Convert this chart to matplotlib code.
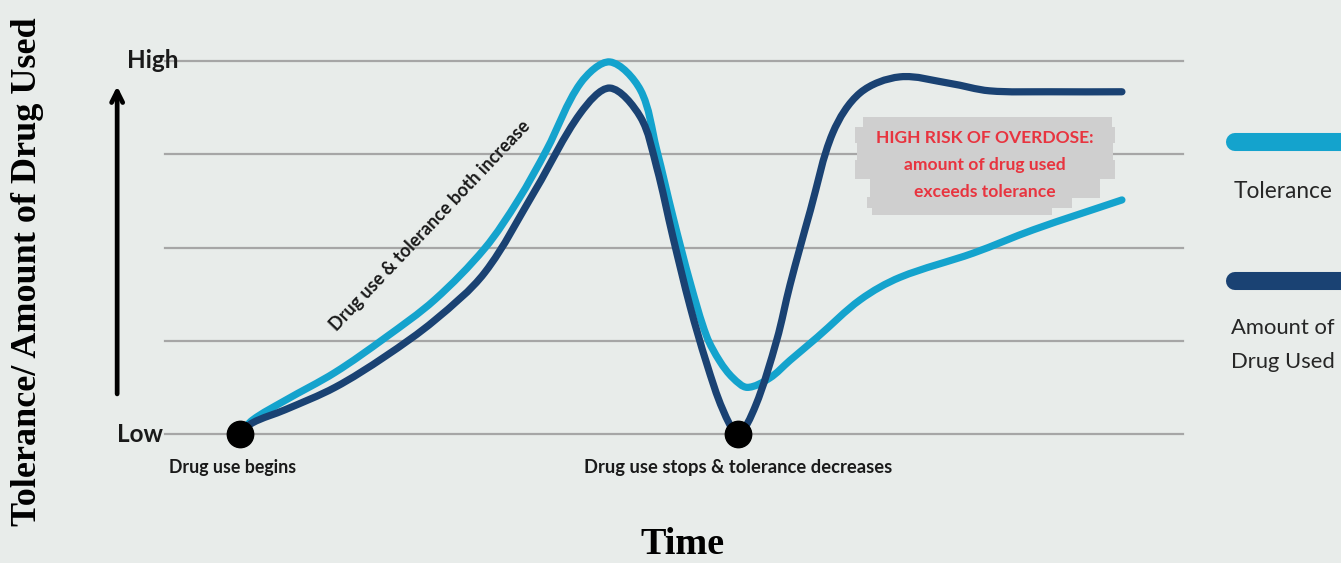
import numpy as np
import matplotlib.pyplot as plt
from matplotlib.path import Path
from matplotlib.patches import PathPatch, Rectangle
from matplotlib.lines import Line2D

# 数据：时间轴 0-100，纵轴 0 (Low) 到 4 (High)
levels = [0, 1, 2, 3, 4]
level_names = {0: "Low", 4: "High"}

tol_t = [7.4, 8.6, 11.8, 16.7, 21.6, 26.5, 31.4, 34.7, 37.5, 40.8, 43.7, 46.7,
         48.3, 49.9, 51.6, 53.2, 54.5, 55.8, 57.2, 59.4, 61.4, 64.1, 68.3, 72.2,
         79.4, 85.3, 94.0]
tol_y = [0.0, 0.15, 0.36, 0.66, 1.03, 1.44, 1.99, 2.51, 3.05, 3.76, 3.99, 3.69,
         3.05, 2.33, 1.62, 1.05, 0.78, 0.60, 0.50, 0.60, 0.79, 1.04, 1.44, 1.68,
         1.94, 2.19, 2.51]

amt_t = [7.4, 8.6, 11.8, 16.7, 21.6, 26.5, 31.4, 36.4, 40.8, 43.7, 46.7,
         48.3, 49.9, 51.6, 53.2, 54.8, 56.3, 58.0, 60.1, 61.4, 63.4, 65.6, 68.3,
         72.2, 77.1, 81.0, 86.9, 94.0]
amt_y = [0.0, 0.12, 0.26, 0.50, 0.83, 1.22, 1.73, 2.62, 3.44, 3.71, 3.40,
         2.86, 2.11, 1.36, 0.76, 0.26, 0.0, 0.30, 1.01, 1.60, 2.40, 3.23, 3.66,
         3.83, 3.76, 3.68, 3.67, 3.67]

event_t = [7.4, 56.3]
event_y = [0.0, 0.0]
event_labels = ["Drug use begins", "Drug use stops & tolerance decreases"]

series_names = ["Tolerance", "Amount of\nDrug Used"]
tol_color = "#14a3cd"
amt_color = "#1a4273"
bg = "#e8ecea"

W, H = 1341, 563
fig = plt.figure(figsize=(W / 100, H / 100), dpi=100, facecolor=bg)


def fx(x):
    return x / W


def fy(y):
    return 1 - y / H


ax = fig.add_axes([fx(165), fy(434), fx(1183) - fx(165), fy(61) - fy(434)])
ax.set_facecolor(bg)
ax.set_xlim(0, 100)
ax.set_ylim(0, 4)
ax.axis("off")


def smooth_path(xs, ys):
    # 按弦长参数化的三次 Hermite -> 贝塞尔，曲线经过每个读数点
    p = np.column_stack([xs, ys]).astype(float)
    d = ax.transData.transform(p)
    seg = np.hypot(*np.diff(d, axis=0).T)
    u = np.concatenate([[0], np.cumsum(seg)])
    n = len(p)
    m = np.zeros_like(p)
    for i in range(n):
        a, b = max(i - 1, 0), min(i + 1, n - 1)
        m[i] = (p[b] - p[a]) / (u[b] - u[a])
    verts = [p[0]]
    codes = [Path.MOVETO]
    for i in range(n - 1):
        h = u[i + 1] - u[i]
        verts += [p[i] + m[i] * h / 3, p[i + 1] - m[i + 1] * h / 3, p[i + 1]]
        codes += [Path.CURVE4] * 3
    return Path(verts, codes)


for lv in levels:
    ax.axhline(lv, color="#a6a6a6", lw=1.6, zorder=1, clip_on=False)
    if lv in level_names:
        ax.text(-0.2 if lv == 0 else 1.3, lv, level_names[lv], ha="right", va="center",
                fontsize=17.5, fontweight="bold", family="Lato", color="#1a1a1a")

ax.add_patch(PathPatch(smooth_path(tol_t, tol_y), fill=False, edgecolor=tol_color,
                       lw=5.2, capstyle="round", joinstyle="round", zorder=3, clip_on=False))
ax.add_patch(PathPatch(smooth_path(amt_t, amt_y), fill=False, edgecolor=amt_color,
                       lw=5.2, capstyle="round", joinstyle="round", zorder=4, clip_on=False))

ax.plot(event_t, event_y, "o", color="black", markersize=19, zorder=6, clip_on=False)
for t, lab, fs, dx in zip(event_t, event_labels, [12.8, 13.2], [-0.8, 0.0]):
    ax.text(t + dx, -0.36, lab, ha="center", va="center", fontsize=fs,
            fontweight="bold", family="Lato", color="#1a1a1a")

ax.text(26.0, 2.23, "Drug use & tolerance both increase", rotation=46.5,
        rotation_mode="anchor", ha="center", va="center", fontsize=13,
        fontweight="bold", family="Lato", color="#1a1a1a")

# 上升箭头
ax.annotate("", xy=(-4.7, 3.76), xytext=(-4.7, 0.40),
            arrowprops=dict(arrowstyle="->,head_length=0.8,head_width=0.4",
                            lw=3.4, color="black"), annotation_clip=False)

# 警示框：灰色涂抹底
strips = [(863, 1112, 117, 128), (855, 1115, 127, 143), (857, 1113, 142, 161),
          (855, 1115, 160, 179), (870, 1100, 178, 198), (867, 1072, 197, 208),
          (872, 1052, 207, 215)]
for x0, x1, y0, y1 in strips:
    fig.add_artist(Rectangle((fx(x0), fy(y1)), fx(x1) - fx(x0), fy(y0) - fy(y1),
                             transform=fig.transFigure, facecolor="#cfcfcf",
                             edgecolor="none", zorder=2))
red_lines = ["HIGH RISK OF OVERDOSE:", "amount of drug used", "exceeds tolerance"]
for yy, s in zip([138, 165, 192], red_lines):
    fig.text(fx(985), fy(yy), s, ha="center", va="center", fontsize=12.6,
             fontweight="bold", family="Lato", color="#e8343f", zorder=3)

# 图例
for yy, col in zip([142, 281], [tol_color, amt_color]):
    fig.add_artist(Line2D([fx(1235), fx(1400)], [fy(yy), fy(yy)], color=col, lw=13,
                          solid_capstyle="round", transform=fig.transFigure))
fig.text(fx(1283), fy(191), series_names[0], ha="center", va="center",
         fontsize=16.3, family="Lato", color="#262626")
fig.text(fx(1283), fy(345), series_names[1], ha="center", va="center",
         fontsize=15.8, family="Lato", color="#262626", linespacing=1.85)

# 坐标轴标题
fig.text(fx(28), fy(272), "Tolerance/ Amount of Drug Used", rotation=90,
         ha="center", va="center", fontsize=26, fontweight="bold",
         family="Liberation Serif", color="black")
fig.text(fx(683), fy(544), "Time", ha="center", va="center", fontsize=27.5,
         fontweight="bold", family="Liberation Serif", color="black")

fig.savefig("out.png", dpi=100, facecolor=bg)
